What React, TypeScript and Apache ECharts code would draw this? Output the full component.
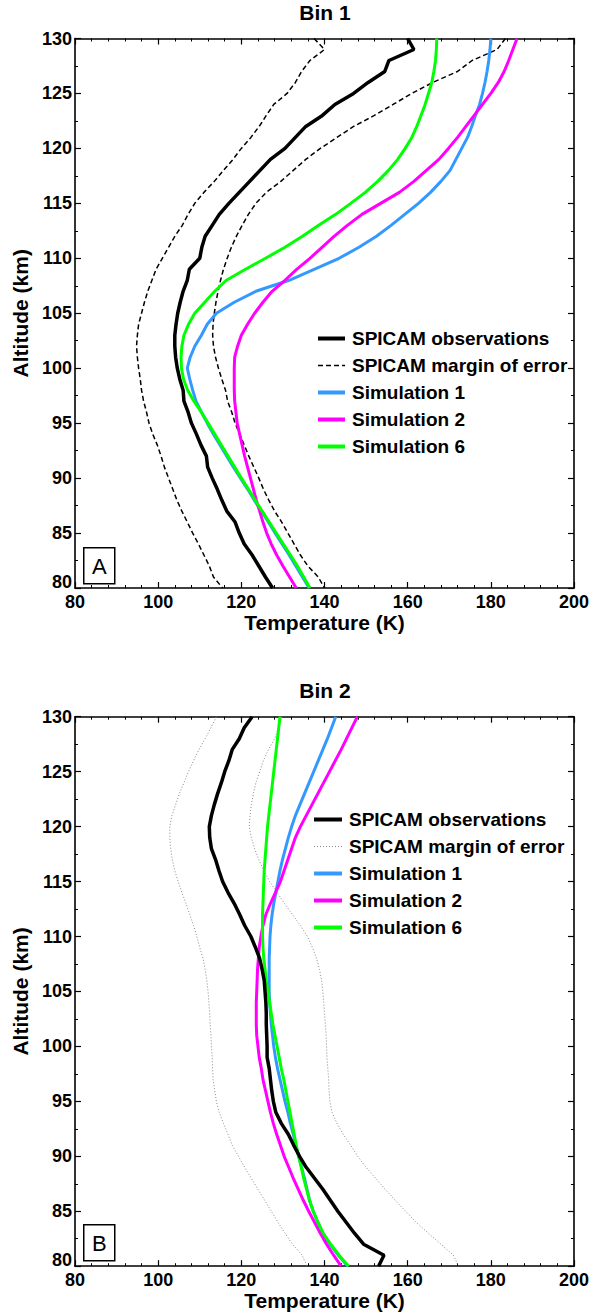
import React, { useEffect, useRef } from "react";
import * as echarts from "echarts";

// Altitudes (km), from top (130) to bottom (80)
const ALTITUDES = [
  130, 129, 128, 127, 126, 125, 124, 123, 122, 121,
  120, 119, 118, 117, 116, 115, 114, 113, 112, 111,
  110, 109, 108, 107, 106, 105, 104, 103, 102, 101,
  100, 99, 98, 97, 96, 95, 94, 93, 92, 91,
  90, 89, 88, 87, 86, 85, 84, 83, 82, 81,
  80,
];

// ---------- Bin 1 (temperatures in K) ----------
const BIN1_OBS = [
  160, 161.5, 155.5, 154.5, 150.5, 147, 142.5, 139.5, 135.5, 133,
  130.5, 127, 124.5, 122, 119.5, 117, 114.7, 113, 111.3, 110.5,
  110, 107.5, 107, 106, 105.3, 104.7, 104.3, 104, 104, 104.2,
  104.6, 105.2, 106, 106.2, 107.2, 108, 109.2, 110.3, 111.6, 111.9,
  113, 114.2, 115.3, 116.5, 118.5, 119.5, 120.7, 122.6, 124.2, 125.8,
  127.5,
];
const BIN1_LOW = [
  137.5, 140, 136.5, 134.5, 133, 131, 127.8, 126, 124.3, 122.3,
  120, 118, 115.7, 113.5, 111, 108.8, 107.2, 105.8, 104, 102.5,
  101, 99.5, 98.5, 97.5, 96.7, 96, 95.3, 95, 94.8, 95,
  95.3, 95.7, 96, 96.5, 97.2, 97.8, 98.7, 99.8, 100.7, 101.5,
  102.5, 103.5, 104.5, 105.7, 107, 108.3, 109.7, 111, 112.3, 113.3,
  115.5,
];
const BIN1_HIGH = [
  183.5, 181.5, 175.5, 172, 166, 161, 156.5, 152, 147, 143,
  139, 135.5, 132.5, 129.5, 126, 123.5, 121.7, 120.2, 118.8, 117.6,
  116.6, 115.7, 115, 114.4, 113.9, 113.5, 113.2, 113.1, 113.3, 113.8,
  114.5, 115.3, 116.2, 116.7, 117.7, 118.5, 119.6, 120.7, 121.8, 123,
  124.2, 125.3, 126.6, 128, 129.7, 131.2, 132.7, 134.2, 136, 138.5,
  140,
];
const BIN1_SIM1 = [
  180, 179.8, 179.5, 179.1, 178.6, 178, 177.3, 176.3, 175.4, 174.4,
  173, 171.6, 170.2, 168, 165.5, 162.6, 159.3, 156, 152.5, 148.3,
  143.5, 137.5, 131.5, 123.5, 118.3, 114, 111.8, 110.4, 108.8, 107.7,
  107, 107.6, 108.3, 109.1, 110.4, 111.8, 113.3, 114.9, 116.5, 118.1,
  119.8, 121.5, 123.1, 124.8, 126.5, 128.1, 129.8, 131.5, 133.1, 134.7,
  136.3,
];
const BIN1_SIM2 = [
  186.3, 185.3, 184.3, 183.2, 181.8, 180, 178, 176, 174, 172,
  169.8, 167.5, 164.5, 161.5, 158, 153.5, 149, 145.5, 142.3, 139.4,
  136.5, 133.3, 130.5, 127.4, 125.2, 123.2, 121.5, 120, 119.1, 118.4,
  118.3, 118.3, 118.3, 118.4, 118.7, 119, 119.6, 120.2, 120.8, 121.5,
  122.2, 122.9, 123.6, 124.4, 125.2, 126.1, 127.2, 128.5, 130, 131.6,
  133.2,
];
const BIN1_SIM6 = [
  167, 166.9, 166.7, 166.3, 165.8, 165, 164.2, 163.2, 162.2, 161,
  159.4, 157.6, 155.4, 152.8, 149.8, 146.3, 142.7, 138.6, 134.7, 130.5,
  125.8, 121, 116.4, 113.6, 111.2, 108.8, 107.3, 106.2, 105.7, 105.5,
  105.6, 106.1, 107.1, 108.6, 110.4, 112, 113.6, 115.2, 116.8, 118.4,
  120, 121.7, 123.3, 125, 126.7, 128.4, 130.1, 131.8, 133.5, 135,
  136.5,
];

// ---------- Bin 2 ----------
const BIN2_OBS = [
  122.6, 120.7, 119.5, 117.8, 117, 116, 115.2, 114.3, 113.5, 112.8,
  112.3, 112.4, 112.8, 113.8, 114.6, 115.5, 116.8, 118.3, 119.6, 120.8,
  122.3, 123.4, 124.4, 125, 125.5, 125.7, 125.9, 126, 126, 126.1,
  126.2, 126.2, 126.7, 127, 127.3, 127.7, 128.3, 129.6, 131.3, 132.6,
  134, 135.6, 137.6, 139.6, 141.4, 143.2, 145.2, 147.2, 149.4, 154.3,
  153,
];
const BIN2_LOW = [
  114, 112.7, 111.3, 109.8, 108.5, 107.3, 106.2, 105.1, 104.2, 103.3,
  102.8, 102.8, 103, 103.4, 104, 104.8, 105.7, 106.7, 107.6, 108.5,
  109.3, 110, 110.8, 111.3, 111.7, 112, 112.2, 112.4, 112.5, 112.7,
  112.8, 113, 113.1, 113.2, 113.6, 114, 114.7, 115.7, 116.8, 117.8,
  119.3, 120.8, 122.4, 124, 125.6, 127.2, 128.8, 130.5, 132.3, 134.6,
  135.8,
];
const BIN2_HIGH = [
  129.8, 129, 128, 126.5, 125.3, 124.4, 123.5, 122.9, 122.4, 122.1,
  121.9, 122.4, 123.2, 124.2, 125.4, 126.8, 128.6, 130.4, 132.3, 134.2,
  135.9, 137.1, 138.1, 138.8, 139.3, 139.6, 139.8, 140, 140.2, 140.4,
  140.5, 140.6, 140.8, 141, 141.1, 141.3, 141.8, 143, 144.5, 146.3,
  148, 150, 152.3, 154.6, 157, 159.5, 162, 165, 168, 171,
  172.2,
];
const BIN2_SIM1 = [
  142.7, 141.7, 140.7, 139.6, 138.5, 137.4, 136.3, 135.2, 134.1, 133,
  132.1, 131.3, 130.6, 129.9, 129.3, 128.8, 128.3, 127.8, 127.4, 127.1,
  126.9, 126.8, 126.7, 126.7, 126.7, 126.7, 126.8, 127, 127.2, 127.5,
  127.8, 128.2, 128.7, 129.3, 129.9, 130.5, 131.2, 131.8, 132.5, 133.1,
  133.8, 134.5, 135.2, 135.8, 136.4, 137.3, 138.4, 139.6, 141.3, 143.3,
  145.6,
];
const BIN2_SIM2 = [
  147.9, 146.6, 145.3, 144, 142.6, 141.2, 139.8, 138.4, 137, 135.6,
  134.2, 133, 132.1, 131.2, 130.3, 129.4, 128.2, 127, 125.9, 125.2,
  124.7, 124.3, 124.1, 123.9, 123.8, 123.7, 123.6, 123.6, 123.6, 123.7,
  124, 124.3, 124.8, 125.2, 125.8, 126.4, 127, 127.7, 128.5, 129.4,
  130.3, 131.4, 132.5, 133.7, 134.9, 136.2, 137.6, 139, 140.5, 142.2,
  144,
];
const BIN2_SIM6 = [
  129.3, 129, 128.7, 128.4, 128.1, 127.8, 127.5, 127.2, 126.9, 126.6,
  126.3, 126.1, 125.9, 125.7, 125.5, 125.4, 125.3, 125.2, 125.1, 125.1,
  125.1, 125.2, 125.4, 125.7, 126, 126.4, 126.8, 127.2, 127.6, 128.1,
  128.6, 129.1, 129.6, 130.2, 130.7, 131.2, 131.7, 132.2, 132.7, 133.2,
  133.8, 134.4, 135, 135.7, 136.4, 137.3, 138.4, 139.7, 141.5, 143.5,
  145.8,
];

const TITLES = ["Bin 1", "Bin 2"];
const PANEL_LETTERS = ["A", "B"];
const NAMES = [
  "SPICAM observations",
  "SPICAM margin of error",
  "Simulation 1",
  "Simulation 2",
  "Simulation 6",
];

const FONT = "'Liberation Sans', Arial, Helvetica, sans-serif";
const BLUE = "#3399FF";
const MAGENTA = "#FF00FF";
const GREEN = "#00FF00";

const pairs = (temps: number[]) => temps.map((t, i) => [t, ALTITUDES[i]]);

export default function App() {
  const ref = useRef<HTMLDivElement>(null);

  useEffect(() => {
    document.body.style.margin = "0";
    if (!ref.current) return;
    const chart = echarts.init(ref.current, undefined, { renderer: "svg" });

    const gridTops = [38.5, 716.7];
    const gridH = 549.5;

    const grids = gridTops.map((t) => ({ left: 75, top: t, width: 501, height: gridH }));

    const axisLine = { show: true, lineStyle: { color: "#000", width: 1.6 } };
    const tick = { show: true, inside: true, length: 6, lineStyle: { color: "#000", width: 1.2 } };

    const xAxes: any[] = [];
    const yAxes: any[] = [];
    [0, 1].forEach((g) => {
      xAxes.push({
        type: "value",
        gridIndex: g,
        position: "bottom",
        min: 80,
        max: 200,
        interval: 20,
        name: "Temperature (K)",
        nameLocation: "middle",
        nameGap: 23,
        nameTextStyle: { fontSize: 21, fontWeight: "bold", color: "#000", fontFamily: FONT },
        axisLine,
        axisTick: tick,
        minorTick: { show: true, splitNumber: 5, length: 3, lineStyle: { color: "#000", width: 1 } },
        axisLabel: { fontSize: 18, fontWeight: "bold", color: "#000", margin: 7, lineHeight: 14, fontFamily: FONT },
        splitLine: { show: false },
      });
      xAxes.push({
        type: "value",
        gridIndex: g,
        position: "top",
        min: 80,
        max: 200,
        interval: 20,
        axisLine,
        axisTick: tick,
        minorTick: { show: true, splitNumber: 5, length: 3, lineStyle: { color: "#000", width: 1 } },
        axisLabel: { show: false },
        splitLine: { show: false },
      });
      yAxes.push({
        type: "value",
        gridIndex: g,
        position: "left",
        min: 80,
        max: 130,
        interval: 5,
        name: "Altitude (km)",
        nameLocation: "middle",
        nameGap: 36,
        nameTextStyle: { fontSize: 21, fontWeight: "bold", color: "#000", fontFamily: FONT },
        axisLine,
        axisTick: tick,
        minorTick: { show: true, splitNumber: 2, length: 3, lineStyle: { color: "#000", width: 1 } },
        axisLabel: {
          fontSize: 18,
          fontWeight: "bold",
          color: "#000",
          margin: 3,
          lineHeight: 12,
          fontFamily: FONT,
          verticalAlignMinLabel: "bottom",
        },
        splitLine: { show: false },
      });
      yAxes.push({
        type: "value",
        gridIndex: g,
        position: "right",
        min: 80,
        max: 130,
        interval: 5,
        axisLine,
        axisTick: tick,
        minorTick: { show: true, splitNumber: 2, length: 3, lineStyle: { color: "#000", width: 1 } },
        axisLabel: { show: false },
        splitLine: { show: false },
      });
    });

    const mk = (name: string, temps: number[], g: number, lineStyle: any, z = 2) => ({
      type: "line",
      name,
      xAxisIndex: g * 2,
      yAxisIndex: g * 2,
      data: pairs(temps),
      showSymbol: false,
      symbol: "none",
      z,
      lineStyle,
      itemStyle: { color: lineStyle.color },
      emphasis: { disabled: true },
    });

    const dashed = { color: "#000", width: 1.5, type: [5, 3] };
    const dotted = { color: "#888", width: 1, type: [1, 2] };
    const obsStyle = { color: "#000", width: 3.5 };
    const s1 = { color: BLUE, width: 3 };
    const s2 = { color: MAGENTA, width: 3 };
    const s6 = { color: GREEN, width: 3 };

    const series = [
      mk(NAMES[0], BIN1_OBS, 0, obsStyle, 5),
      mk(NAMES[1], BIN1_LOW, 0, dashed, 3),
      mk(NAMES[1], BIN1_HIGH, 0, dashed, 3),
      mk(NAMES[2], BIN1_SIM1, 0, s1, 4),
      mk(NAMES[3], BIN1_SIM2, 0, s2, 4),
      mk(NAMES[4], BIN1_SIM6, 0, s6, 4),
      mk(NAMES[0], BIN2_OBS, 1, obsStyle, 5),
      mk(NAMES[1], BIN2_LOW, 1, dotted, 3),
      mk(NAMES[1], BIN2_HIGH, 1, dotted, 3),
      mk(NAMES[2], BIN2_SIM1, 1, s1, 4),
      mk(NAMES[3], BIN2_SIM2, 1, s2, 4),
      mk(NAMES[4], BIN2_SIM6, 1, s6, 4),
    ];

    const legendBase = {
      orient: "vertical",
      itemWidth: 27,
      itemHeight: 14,
      itemGap: 8,
      padding: 0,
      selectedMode: false,
      itemStyle: { opacity: 0 },
      textStyle: { fontSize: 19, fontWeight: "bold", color: "#000", fontFamily: FONT, lineHeight: 19, padding: [0, 0, 0, 2] },
    };

    const legendStyles = (margin: any) => [
      { color: "#000", width: 4, type: "solid" },
      margin,
      { color: BLUE, width: 4, type: "solid" },
      { color: MAGENTA, width: 4, type: "solid" },
      { color: GREEN, width: 4, type: "solid" },
    ];
    const lsA = legendStyles({ color: "#000", width: 1.5, type: [5, 3] });
    const lsB = legendStyles({ color: "#888", width: 1, type: [1, 2] });

    const legends = [
      { ...legendBase, left: 316, top: 329, data: NAMES.map((n, i) => ({ name: n, lineStyle: lsA[i] })) },
      { ...legendBase, left: 312, top: 810, itemWidth: 28, data: NAMES.map((n, i) => ({ name: n, lineStyle: lsB[i] })) },
    ];

    const titles = TITLES.map((t, i) => ({
      text: t,
      left: 325,
      top: 2 + (gridTops[i] - gridTops[0]),
      textAlign: "center",
      padding: 0,
      textStyle: { fontSize: 21, fontWeight: "bold", color: "#000", fontFamily: FONT },
    }));

    const boxTops = [547, 1224];
    const graphic = PANEL_LETTERS.map((L, i) => ({
      type: "group",
      left: 83,
      top: boxTops[i],
      children: [
        { type: "rect", shape: { x: 0, y: 0, width: 31, height: 36 }, style: { fill: "#fff", stroke: "#000", lineWidth: 1.5 } },
        {
          type: "text",
          x: 15.5,
          y: 18.5,
          style: { text: L, fontSize: 22, fontFamily: FONT, fill: "#000", align: "center", verticalAlign: "middle" },
        },
      ],
    }));

    chart.setOption({
      animation: false,
      textStyle: { fontFamily: FONT },
      title: titles,
      grid: grids,
      xAxis: xAxes,
      yAxis: yAxes,
      legend: legends,
      series,
      graphic,
    });

    return () => chart.dispose();
  }, []);

  return <div ref={ref} style={{ position: "absolute", left: 0, top: 0, width: 592, height: 1314 }} />;
}
